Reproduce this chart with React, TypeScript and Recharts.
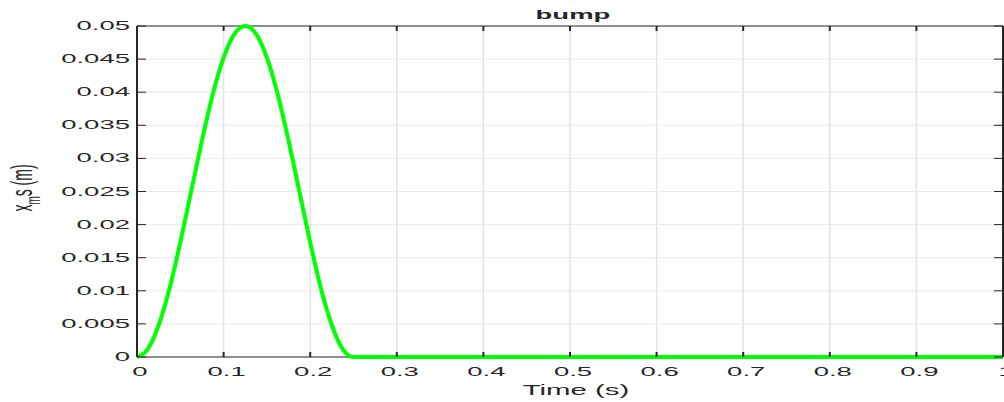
import React from 'react';
import { LineChart, Line, XAxis, YAxis, CartesianGrid, ReferenceLine } from 'recharts';

// values
const TIME = [0, 0.0125, 0.025, 0.0375, 0.05, 0.0625, 0.075, 0.0875, 0.1, 0.1125, 0.125, 0.1375, 0.15, 0.1625, 0.175, 0.1875, 0.2, 0.2125, 0.225, 0.2375, 0.25, 0.5, 0.75, 1];
const XMS = [0, 0.0012, 0.0048, 0.0103, 0.0173, 0.025, 0.0327, 0.0397, 0.0452, 0.0488, 0.05, 0.0488, 0.0452, 0.0397, 0.0327, 0.025, 0.0173, 0.0103, 0.0048, 0.0012, 0, 0, 0, 0];
const X_TICKS = [0, 0.1, 0.2, 0.3, 0.4, 0.5, 0.6, 0.7, 0.8, 0.9, 1];
const X_LABELS = ['0', '0.1', '0.2', '0.3', '0.4', '0.5', '0.6', '0.7', '0.8', '0.9', '1'];
const Y_TICKS = [0, 0.005, 0.01, 0.015, 0.02, 0.025, 0.03, 0.035, 0.04, 0.045, 0.05];
const Y_LABELS = ['0', '0.005', '0.01', '0.015', '0.02', '0.025', '0.03', '0.035', '0.04', '0.045', '0.05'];

const W = 1004;
const H = 402;
const TOP = 26;
const LEFT = 137;
const RIGHT = 1;
const XAXIS_H = 45;
const PLOT_BOTTOM = H - XAXIS_H;
const PLOT_RIGHT = W - RIGHT;
const INK = '#262626';
const FONT = '"Liberation Sans", Arial, Helvetica, sans-serif';
const SX = 2.2; // the reference is stretched sideways

const data = TIME.map((t, i) => ({ t, x: XMS[i] }));

const XTick = (props: any) => {
  const { x, payload } = props;
  const idx = X_TICKS.indexOf(payload.value);
  return (
    <g>
      <line x1={x} x2={x} y1={PLOT_BOTTOM} y2={PLOT_BOTTOM - 5} stroke={INK} strokeWidth={2} />
      <line x1={x} x2={x} y1={TOP} y2={TOP + 5} stroke={INK} strokeWidth={2} />
      <text
        transform={`translate(${x + 3},${PLOT_BOTTOM + 15}) scale(${SX},1)`}
        textAnchor="middle"
        dominantBaseline="central"
        fontSize={12.5}
        fontFamily={FONT}
        fill={INK}
      >
        {idx >= 0 ? X_LABELS[idx] : payload.value}
      </text>
    </g>
  );
};

const YTick = (props: any) => {
  const { y, payload } = props;
  const idx = Y_TICKS.indexOf(payload.value);
  return (
    <g>
      <line x1={LEFT} x2={LEFT + 9} y1={y} y2={y} stroke={INK} strokeWidth={1} />
      <line x1={PLOT_RIGHT} x2={PLOT_RIGHT - 9} y1={y} y2={y} stroke={INK} strokeWidth={1} />
      <text
        transform={`translate(${LEFT - 7},${y}) scale(${SX},1)`}
        textAnchor="end"
        dominantBaseline="central"
        fontSize={12.5}
        fontFamily={FONT}
        fill={INK}
      >
        {idx >= 0 ? Y_LABELS[idx] : payload.value}
      </text>
    </g>
  );
};

const XLabel = () => (
  <text
    transform={`translate(576,395) scale(2.1,1)`}
    textAnchor="middle"
    fontSize={14}
    fontFamily={FONT}
    fill={INK}
  >
    Time (s)
  </text>
);

const YLabel = () => (
  <text
    transform={`translate(32,188) scale(2.1,1) rotate(-90)`}
    textAnchor="middle"
    fontSize={14}
    fontFamily={FONT}
    fill={INK}
  >
    x<tspan dy={4} fontSize={10}>m</tspan>
    <tspan dy={-4}>s (m)</tspan>
  </text>
);

const App: React.FC = () => {
  return (
    <div style={{ position: 'absolute', left: 0, top: 0, width: W, height: H, background: '#fff' }}>
      <LineChart width={W} height={H} data={data} margin={{ top: TOP, right: RIGHT, left: 0, bottom: 0 }}>
        <CartesianGrid horizontal={false} stroke="#e3e3e3" strokeWidth={1.5} />
        <CartesianGrid vertical={false} stroke="#ebebeb" strokeWidth={1} />
        <XAxis
          dataKey="t"
          type="number"
          domain={[0, 1]}
          ticks={X_TICKS}
          height={XAXIS_H}
          axisLine={false}
          tickLine={false}
          tick={<XTick />}
          interval={0}
        />
        <YAxis
          type="number"
          domain={[0, 0.05]}
          ticks={Y_TICKS}
          width={LEFT}
          axisLine={false}
          tickLine={false}
          tick={<YTick />}
          interval={0}
        />
        <ReferenceLine x={0} stroke={INK} strokeWidth={2} />
        <ReferenceLine x={1} stroke={INK} strokeWidth={2} />
        <ReferenceLine y={0.05} stroke={INK} strokeWidth={1} />
        <ReferenceLine y={0} stroke={INK} strokeWidth={1} />
        <Line
          type="monotone"
          dataKey="x"
          stroke="#00ff00"
          strokeWidth={4}
          dot={false}
          isAnimationActive={false}
        />
        <text x={573} y={19} textAnchor="middle" fontSize={12.5} fontWeight="bold" fontFamily={FONT} fill={INK}
          transform={`translate(573,0) scale(2.2,1) translate(-573,0)`}>
          bump
        </text>
        <XLabel />
        <YLabel />
      </LineChart>
    </div>
  );
};

export default App;
